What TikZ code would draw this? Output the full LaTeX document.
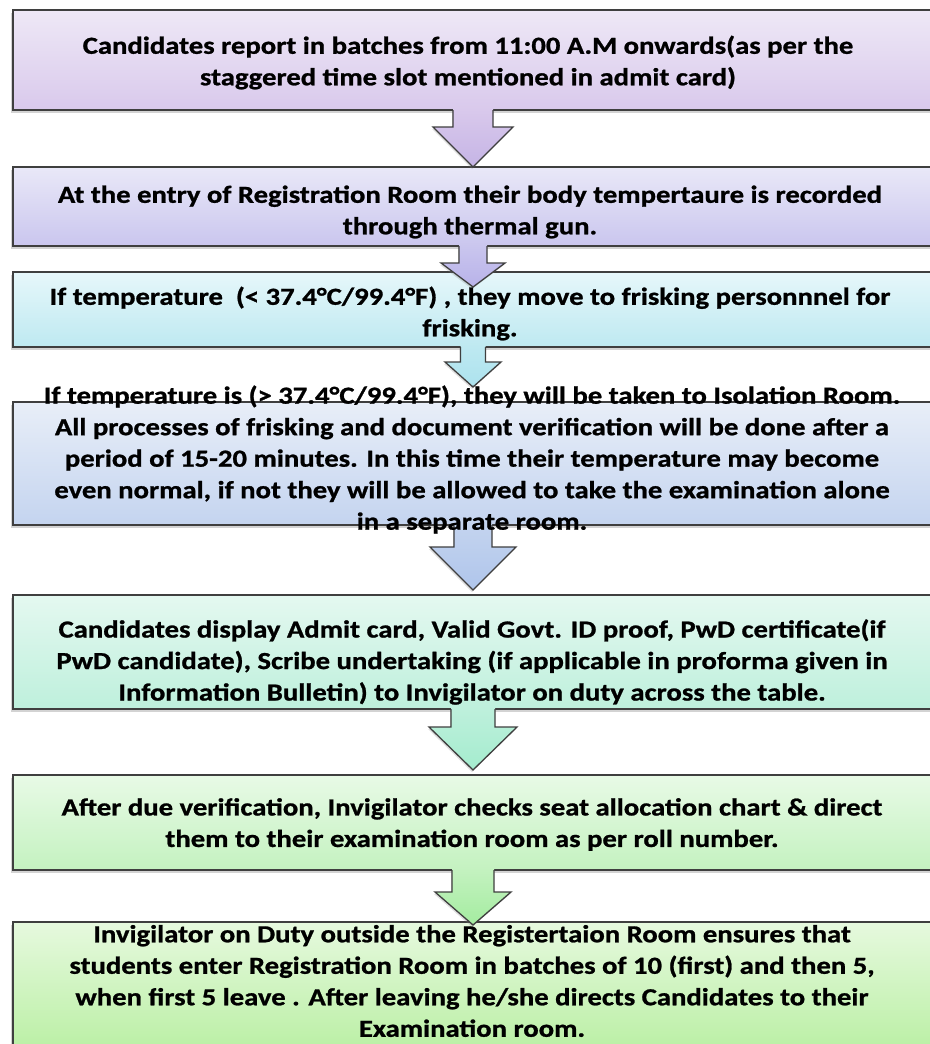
\documentclass[tikz,border=0pt]{standalone}
\usepackage{fontspec}
\setmainfont{Carlito}[FakeStretch=1.17, BoldFeatures={FakeStretch=1.17, FakeBold=1}]
\usepackage{tikz}
\usetikzlibrary{calc,shadows}

\definecolor{edge}{HTML}{3F3F3F}
\definecolor{b1top}{HTML}{EEE8F6}\definecolor{b1bot}{HTML}{D9C9EC}
\definecolor{b2top}{HTML}{E9E8F8}\definecolor{b2bot}{HTML}{CAC6EE}
\definecolor{b3top}{HTML}{E6F7FA}\definecolor{b3bot}{HTML}{BEE9F1}
\definecolor{b4top}{HTML}{E8EEF8}\definecolor{b4bot}{HTML}{C4D4EF}
\definecolor{b5top}{HTML}{E4F8F0}\definecolor{b5bot}{HTML}{BEF0DC}
\definecolor{b6top}{HTML}{E8FAE6}\definecolor{b6bot}{HTML}{C4F2C0}
\definecolor{b7top}{HTML}{E6F9DE}\definecolor{b7bot}{HTML}{B4EE9C}
\definecolor{a1top}{HTML}{D9C9EC}\definecolor{a1bot}{HTML}{C5B4E5}
\definecolor{a2top}{HTML}{CAC6EE}\definecolor{a2bot}{HTML}{B8B2E9}
\definecolor{a3top}{HTML}{BEE9F1}\definecolor{a3bot}{HTML}{ACE2EE}
\definecolor{a4top}{HTML}{C4D4EF}\definecolor{a4bot}{HTML}{AFC5EB}
\definecolor{a5top}{HTML}{BEF0DC}\definecolor{a5bot}{HTML}{A4ECCE}
\definecolor{a6top}{HTML}{C4F2C0}\definecolor{a6bot}{HTML}{A4ECA0}

% from, to, stem half width, head half width, head length, tip overshoot, colour
\newcommand{\flowarrow}[7]{%
  \path[arrowfill, top color=#7top, bottom color=#7bot]
    let \p1 = ($(#1.south)+(-10,0)$), \p3 = ($(#2.north)+(0,#6)$) in
    ({\x1-#3pt},{\y1+1pt}) -- ({\x1-#3pt},{\y3+#5pt}) -- ({\x1-#4pt},{\y3+#5pt})
    -- (\x1,\y3) -- ({\x1+#4pt},{\y3+#5pt}) -- ({\x1+#3pt},{\y3+#5pt})
    -- ({\x1+#3pt},{\y1+1pt}) -- cycle;
  \draw[arrowline]
    let \p1 = ($(#1.south)+(-10,0)$), \p3 = ($(#2.north)+(0,#6)$) in
    ({\x1-#3pt},\y1) -- ({\x1-#3pt},{\y3+#5pt}) -- ({\x1-#4pt},{\y3+#5pt})
    -- (\x1,\y3) -- ({\x1+#4pt},{\y3+#5pt}) -- ({\x1+#3pt},{\y3+#5pt})
    -- ({\x1+#3pt},\y1);
}

\begin{document}
\begin{tikzpicture}[x=1pt, y=-1pt,
  panel/.style = {draw=edge, line width=1.3pt, minimum width=940pt,
    inner sep=0pt, outer sep=0pt,
    drop shadow={shadow xshift=-2pt, shadow yshift=-3pt, opacity=.35}},
  arrowfill/.style = {drop shadow={shadow xshift=-1pt, shadow yshift=-2pt, opacity=.25}},
  arrowline/.style = {draw=edge, line width=1.3pt, line join=miter},
  words/.style = {align=center, inner sep=0pt,
    font=\fontsize{24.5}{31.5}\selectfont\bfseries}]
\useasboundingbox (0,0) rectangle (929,1044);

\node[panel, top color=b1top, bottom color=b1bot, minimum height=100pt] (b1) at (483,60) {};
\node[panel, top color=b2top, bottom color=b2bot, minimum height=79pt]  (b2) at (483,206.5) {};
\node[panel, top color=b3top, bottom color=b3bot, minimum height=75pt]  (b3) at (483,309.5) {};
\node[panel, top color=b4top, bottom color=b4bot, minimum height=123pt] (b4) at (483,463.5) {};
\node[panel, top color=b5top, bottom color=b5bot, minimum height=114pt] (b5) at (483,652) {};
\node[panel, top color=b6top, bottom color=b6bot, minimum height=95pt]  (b6) at (483,822.5) {};
\node[panel, top color=b7top, bottom color=b7bot, minimum height=148pt] (b7) at (483,996) {};

\flowarrow{b1}{b2}{20}{40}{40}{0}{a1}
\flowarrow{b2}{b3}{14}{32}{24}{15}{a2}
\flowarrow{b3}{b4}{12.5}{28}{25}{-15}{a3}
\flowarrow{b4}{b5}{19}{43}{43}{-5}{a4}
\flowarrow{b5}{b6}{22}{44}{43}{-5}{a5}
\flowarrow{b6}{b7}{21}{38}{33}{3}{a6}

\node[words] (t1) at (468,62.5) {Candidates report in batches from 11:00 A.M onwards(as per the\\
  staggered time slot mentioned in admit card)};
\node[words] (t2) at (470,212) {At the entry of Registration Room their body tempertaure is recorded\\
  through thermal gun.};
\node[words] (t3) at (470,313.5) {If temperature\ \ (< 37.4°C/99.4°F) , they move to frisking personnnel for\\
  frisking.};
\node[words] (t4) at (472,459.5) {If temperature is (> 37.4°C/99.4°F), they will be taken to Isolation Room.\\
  All processes of frisking and document verification will be done after a\\
  period of 15-20 minutes. In this time their temperature may become\\
  even normal, if not they will be allowed to take the examination alone\\
  in a separate room.};
\node[words] (t5) at (472,662) {Candidates display Admit card, Valid Govt. ID proof, PwD certificate(if\\
  PwD candidate), Scribe undertaking (if applicable in proforma given in\\
  Information Bulletin) to Invigilator on duty across the table.};
\node[words] (t6) at (472,824.5) {After due verification, Invigilator checks seat allocation chart \& direct\\
  them to their examination room as per roll number.};
\node[words] (t7) at (472,981) {Invigilator on Duty outside the Registertaion Room ensures that\\
  students enter Registration Room in batches of 10 (first) and then 5,\\
  when first 5 leave . After leaving he/she directs Candidates to their\\
  Examination room.};
\end{tikzpicture}
\end{document}
